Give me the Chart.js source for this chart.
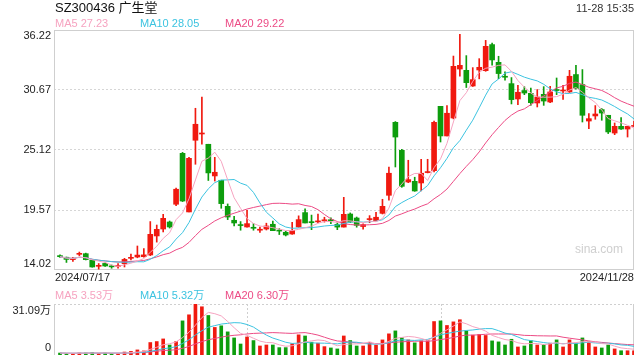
<!DOCTYPE html>
<html>
<head>
<meta charset="utf-8">
<script src="https://cdn.jsdelivr.net/npm/chart.js@4.4.1/dist/chart.umd.min.js"></script>
<style>
  body { margin: 0; width: 640px; height: 360px; background: #fff; position: relative; overflow: hidden;
         font-family: Arial, "Liberation Sans", "Noto Sans CJK SC", sans-serif; }
  .t { position: absolute; white-space: nowrap; font-size: 11px; line-height: 12px; color: #222; }
  #main { position: absolute; left: 0; top: 0; width: 640px; height: 290px; }
  #vol { position: absolute; left: 0; top: 280px; width: 640px; height: 80px; }
</style>
</head>
<body>
<canvas id="main" width="640" height="290"></canvas>
<canvas id="vol" width="640" height="80"></canvas>

<div class="t" style="left:55px;top:0px;font-size:13px;line-height:15px;color:#111">SZ300436 广生堂</div>
<div class="t" style="right:6px;top:2px;color:#333">11-28 15:35</div>

<div class="t" style="left:55px;top:17px;color:#f6a3c0">MA5 27.23</div>
<div class="t" style="left:140px;top:17px;color:#3cc3e0">MA10 28.05</div>
<div class="t" style="left:225px;top:17px;color:#ec4b85">MA20 29.22</div>

<div class="t" style="left:55px;top:271px">2024/07/17</div>
<div class="t" style="right:6px;top:271px">2024/11/28</div>
<div class="t" style="right:17px;top:243px;font-size:12px;color:#cfcfcf">sina.com</div>

<div class="t" style="left:55px;top:289px;color:#f6a3c0">MA5 3.53万</div>
<div class="t" style="left:140px;top:289px;color:#3cc3e0">MA10 5.32万</div>
<div class="t" style="left:225px;top:289px;color:#ec4b85">MA20 6.30万</div>

<script>
// daily candles 2024/07/17 .. 2024/11/28 (90 sessions)
const openPrices = [
  15.35, 15.2, 14.98, 15.47, 15.53, 14.92, 14.36, 14.63, 14.35, 14.36,
  14.6, 15.1, 15.22, 15.25, 15.41, 17.17, 17.81, 18.46, 20.1, 24.81,
  19.39, 26.02, 26.6, 25.65, 22.72, 22.32, 19.91, 18.62, 18.17, 18.0,
  17.92, 17.7, 17.81, 18.25, 17.68, 17.51, 17.35, 18.0, 19.33, 18.45,
  18.47, 18.57, 18.62, 18.25, 17.99, 19.2, 18.83, 18.04, 18.68, 18.59,
  19.26, 20.93, 27.68, 25.09, 22.16, 22.22, 22.07, 23.03, 23.21, 29.16,
  26.42, 28.08, 32.61, 32.49, 31.04, 32.52, 32.46, 34.87, 33.23, 31.9,
  31.26, 29.84, 30.62, 30.36, 29.47, 30.27, 29.56, 30.66, 30.58, 30.49,
  32.1, 31.17, 27.8, 28.27, 28.86, 28.33, 26.69, 27.31, 27.06, 27.3
];
const highPrices = [
  15.42, 15.22, 15.2, 15.68, 15.58, 14.92, 14.62, 14.68, 14.48, 14.62,
  15.1, 15.5, 16.24, 16.0, 18.5, 18.18, 19.17, 18.55, 21.6, 24.9,
  24.45, 28.98, 30.02, 25.65, 24.44, 22.32, 20.13, 18.98, 18.5, 19.54,
  18.31, 17.98, 18.35, 18.55, 17.85, 17.6, 18.43, 19.03, 19.67, 19.1,
  19.2, 18.9, 18.85, 18.38, 20.74, 19.3, 18.92, 18.3, 19.05, 19.35,
  20.56, 23.55, 27.75, 25.18, 24.17, 22.6, 24.26, 24.26, 27.8, 29.16,
  29.23, 33.81, 35.82, 33.85, 32.74, 33.57, 35.26, 35.02, 33.79, 32.34,
  31.82, 31.1, 30.98, 30.85, 30.71, 30.98, 31.01, 31.78, 31.1, 32.49,
  32.95, 32.56, 28.49, 29.23, 28.95, 28.33, 27.62, 28.12, 27.31, 27.77
];
const lowPrices = [
  15.18, 14.72, 14.82, 15.35, 14.95, 14.28, 14.1, 14.35, 14.18, 14.2,
  14.3, 14.95, 15.15, 15.2, 15.35, 16.6, 17.54, 17.9, 19.98, 20.35,
  19.39, 23.8, 25.65, 22.3, 22.25, 19.73, 18.68, 18.1, 17.7, 17.98,
  17.7, 17.5, 17.72, 17.66, 17.3, 17.17, 17.32, 17.98, 18.37, 17.75,
  18.4, 18.45, 18.3, 17.75, 17.99, 18.4, 17.98, 17.8, 18.4, 18.55,
  19.2, 20.47, 23.55, 21.67, 22.1, 21.3, 21.33, 23.0, 23.1, 25.86,
  26.42, 28.0, 31.94, 30.9, 31.0, 31.7, 32.4, 32.96, 31.72, 31.57,
  29.38, 29.32, 30.24, 29.25, 29.1, 29.25, 29.5, 30.24, 29.81, 30.45,
  30.75, 27.71, 27.1, 27.96, 27.87, 26.64, 26.54, 27.03, 26.32, 27.3
];
const closePrices = [
  15.25, 15.0, 15.03, 15.52, 14.98, 14.3, 14.4, 14.39, 14.31, 14.4,
  15.0, 15.15, 15.4, 15.42, 17.32, 17.78, 18.8, 18.0, 21.49, 20.4,
  24.35, 27.5, 26.65, 23.0, 23.06, 20.16, 18.92, 18.37, 18.13, 18.31,
  17.88, 17.74, 18.09, 17.66, 17.62, 17.26, 17.69, 18.68, 18.37, 18.4,
  18.52, 18.62, 18.58, 17.99, 19.17, 18.46, 18.15, 18.22, 18.72, 18.9,
  19.91, 22.97, 26.32, 21.76, 22.38, 21.33, 22.97, 23.08, 27.68, 26.42,
  28.52, 32.86, 32.95, 31.35, 31.63, 32.77, 34.71, 33.45, 32.19, 31.85,
  29.78, 30.46, 30.39, 29.5, 30.02, 29.65, 30.49, 30.62, 30.62, 31.94,
  30.8, 28.33, 28.02, 28.45, 28.54, 26.79, 27.31, 27.06, 27.31, 27.34
];
// volume in 万 (10k shares)
const volumes = [
  1.2, 1.0, 1.0, 1.2, 1.2, 1.5, 1.0, 1.2, 0.9, 1.0,
  1.8, 2.2, 3.1, 2.5, 7.6, 8.2, 9.8, 6.1, 8.2, 20.8,
  24.5, 31.09, 29.4, 24.1, 16.8, 17.8, 14.1, 10.4, 6.7, 11.0,
  8.8, 5.5, 6.1, 6.1, 4.5, 4.5, 6.9, 12.3, 11.6, 7.8,
  7.2, 5.1, 4.3, 3.7, 11.6, 8.8, 5.5, 5.5, 7.8, 6.1,
  9.2, 12.9, 14.7, 10.6, 9.2, 7.4, 8.6, 8.8, 20.4, 20.8,
  18.0, 20.2, 21.5, 14.7, 12.1, 12.5, 11.9, 8.6, 8.0, 6.1,
  9.6, 4.9, 5.5, 8.8, 6.1, 6.3, 7.2, 9.2, 4.9, 9.2,
  7.2, 10.4, 8.0, 4.9, 4.3, 6.1, 3.7, 2.6, 2.6, 2.6
];
const priceTicks = [14.02, 19.57, 25.12, 30.67, 36.22];
const volumeMax = 31.09;
const volumeDividers = [29, 59];

const UP = '#f0190f';
const DOWN = '#0d9d0d';
const MA5_COLOR = '#f6a3c0';
const MA10_COLOR = '#3cc3e0';
const MA20_COLOR = '#ec4b85';
const FRAME = '#cfcfcf';
const X_MIN = -0.93, X_MAX = 89;

// simple moving average, shorter window at the start
function movingAvg(values, n) {
  return values.map((v, i) => {
    const win = values.slice(Math.max(0, i - n + 1), i + 1);
    return win.reduce((a, b) => a + b, 0) / win.length;
  });
}
const toPoints = arr => arr.map((y, x) => ({ x, y }));
const candleColor = ctx => closePrices[ctx.dataIndex] >= openPrices[ctx.dataIndex] ? UP : DOWN;

function maLine(values, n, color) {
  return { type: 'line', data: toPoints(movingAvg(values, n)), borderColor: color,
           borderWidth: 1, pointRadius: 0, tension: 0, order: 0 };
}

const mainDecor = {
  id: 'mainDecor',
  beforeDatasetsDraw(chart) {
    const { ctx, chartArea: a } = chart;
    ctx.save();
    ctx.strokeStyle = FRAME;
    ctx.lineWidth = 1;
    ctx.strokeRect(a.left + 0.5, a.top + 0.5, a.right - a.left - 1, a.bottom - a.top - 1);
    ctx.restore();
  },
  afterDraw(chart) {
    const { ctx, chartArea: a, scales: { y } } = chart;
    ctx.save();
    ctx.font = '11px Arial, "Liberation Sans", sans-serif';
    ctx.fillStyle = '#222';
    ctx.textAlign = 'right';
    ctx.textBaseline = 'middle';
    priceTicks.forEach(v => {
      const py = Math.min(Math.max(y.getPixelForValue(v), a.top + 6), a.bottom - 6);
      ctx.fillText(v.toFixed(2), a.left - 3, py);
    });
    ctx.restore();
  }
};

new Chart(document.getElementById('main'), {
  type: 'bar',
  data: {
    datasets: [
      maLine(closePrices, 5, MA5_COLOR),
      maLine(closePrices, 10, MA10_COLOR),
      maLine(closePrices, 20, MA20_COLOR),
      { type: 'bar', data: closePrices.map((c, i) => ({ x: i, y: [lowPrices[i], highPrices[i]] })),
        backgroundColor: candleColor, barThickness: 1, grouped: false, borderWidth: 0, order: 2 },
      { type: 'bar', data: closePrices.map((c, i) => ({ x: i, y: [openPrices[i], c] })),
        backgroundColor: candleColor, barThickness: 5, minBarLength: 1, grouped: false, borderWidth: 0, order: 1 }
    ]
  },
  options: {
    responsive: false,
    animation: false,
    layout: { padding: { top: 30, right: 6, bottom: 20, left: 0 } },
    plugins: { legend: { display: false }, tooltip: { enabled: false } },
    scales: {
      x: { type: 'linear', min: X_MIN, max: X_MAX, offset: false, display: false },
      y: {
        min: priceTicks[0], max: priceTicks[priceTicks.length - 1],
        afterFit: s => { s.width = 54; },
        afterBuildTicks: s => { s.ticks = priceTicks.map(v => ({ value: v })); },
        ticks: { display: false },
        grid: { drawTicks: false, lineWidth: 1,
                color: c => (c.index === 0 || c.index === priceTicks.length - 1) ? 'rgba(0,0,0,0)' : '#d6d6d6' },
        border: { display: false, dash: [2, 2] }
      }
    }
  },
  plugins: [mainDecor]
});

const volDecor = {
  id: 'volDecor',
  beforeDatasetsDraw(chart) {
    const { ctx, chartArea: a, scales: { x } } = chart;
    ctx.save();
    ctx.lineWidth = 1;
    ctx.strokeStyle = FRAME;
    ctx.beginPath();
    ctx.moveTo(a.left + 0.5, a.top); ctx.lineTo(a.left + 0.5, a.bottom);
    ctx.moveTo(a.right - 0.5, a.top); ctx.lineTo(a.right - 0.5, a.bottom);
    ctx.stroke();
    ctx.setLineDash([2, 2]);
    ctx.beginPath();
    ctx.moveTo(a.left, a.top + 0.5); ctx.lineTo(a.right, a.top + 0.5);
    volumeDividers.forEach(i => {
      const px = Math.round(x.getPixelForValue(i)) + 0.5;
      ctx.moveTo(px, a.top); ctx.lineTo(px, a.bottom);
    });
    ctx.stroke();
    ctx.restore();
  },
  afterDraw(chart) {
    const { ctx, chartArea: a } = chart;
    ctx.save();
    ctx.font = '11px Arial, "Liberation Sans", "Noto Sans CJK SC", sans-serif';
    ctx.fillStyle = '#222';
    ctx.textAlign = 'right';
    ctx.textBaseline = 'middle';
    ctx.fillText(volumeMax.toFixed(2) + '万', a.left - 3, a.top + 7);
    ctx.fillText('0', a.left - 3, a.bottom - 7);
    ctx.restore();
  }
};

new Chart(document.getElementById('vol'), {
  type: 'bar',
  data: {
    datasets: [
      maLine(volumes, 5, MA5_COLOR),
      maLine(volumes, 10, MA10_COLOR),
      maLine(volumes, 20, MA20_COLOR),
      { type: 'bar', data: toPoints(volumes), backgroundColor: candleColor,
        barThickness: 3, grouped: false, borderWidth: 0, order: 1 }
    ]
  },
  options: {
    responsive: false,
    animation: false,
    layout: { padding: { top: 24, right: 6, bottom: 5, left: 0 } },
    plugins: { legend: { display: false }, tooltip: { enabled: false } },
    scales: {
      x: { type: 'linear', min: X_MIN, max: X_MAX, offset: false, display: false },
      y: {
        min: 0, max: volumeMax,
        afterFit: s => { s.width = 54; },
        ticks: { display: false },
        grid: { display: false },
        border: { display: false }
      }
    }
  },
  plugins: [volDecor]
});
</script>
</body>
</html>
